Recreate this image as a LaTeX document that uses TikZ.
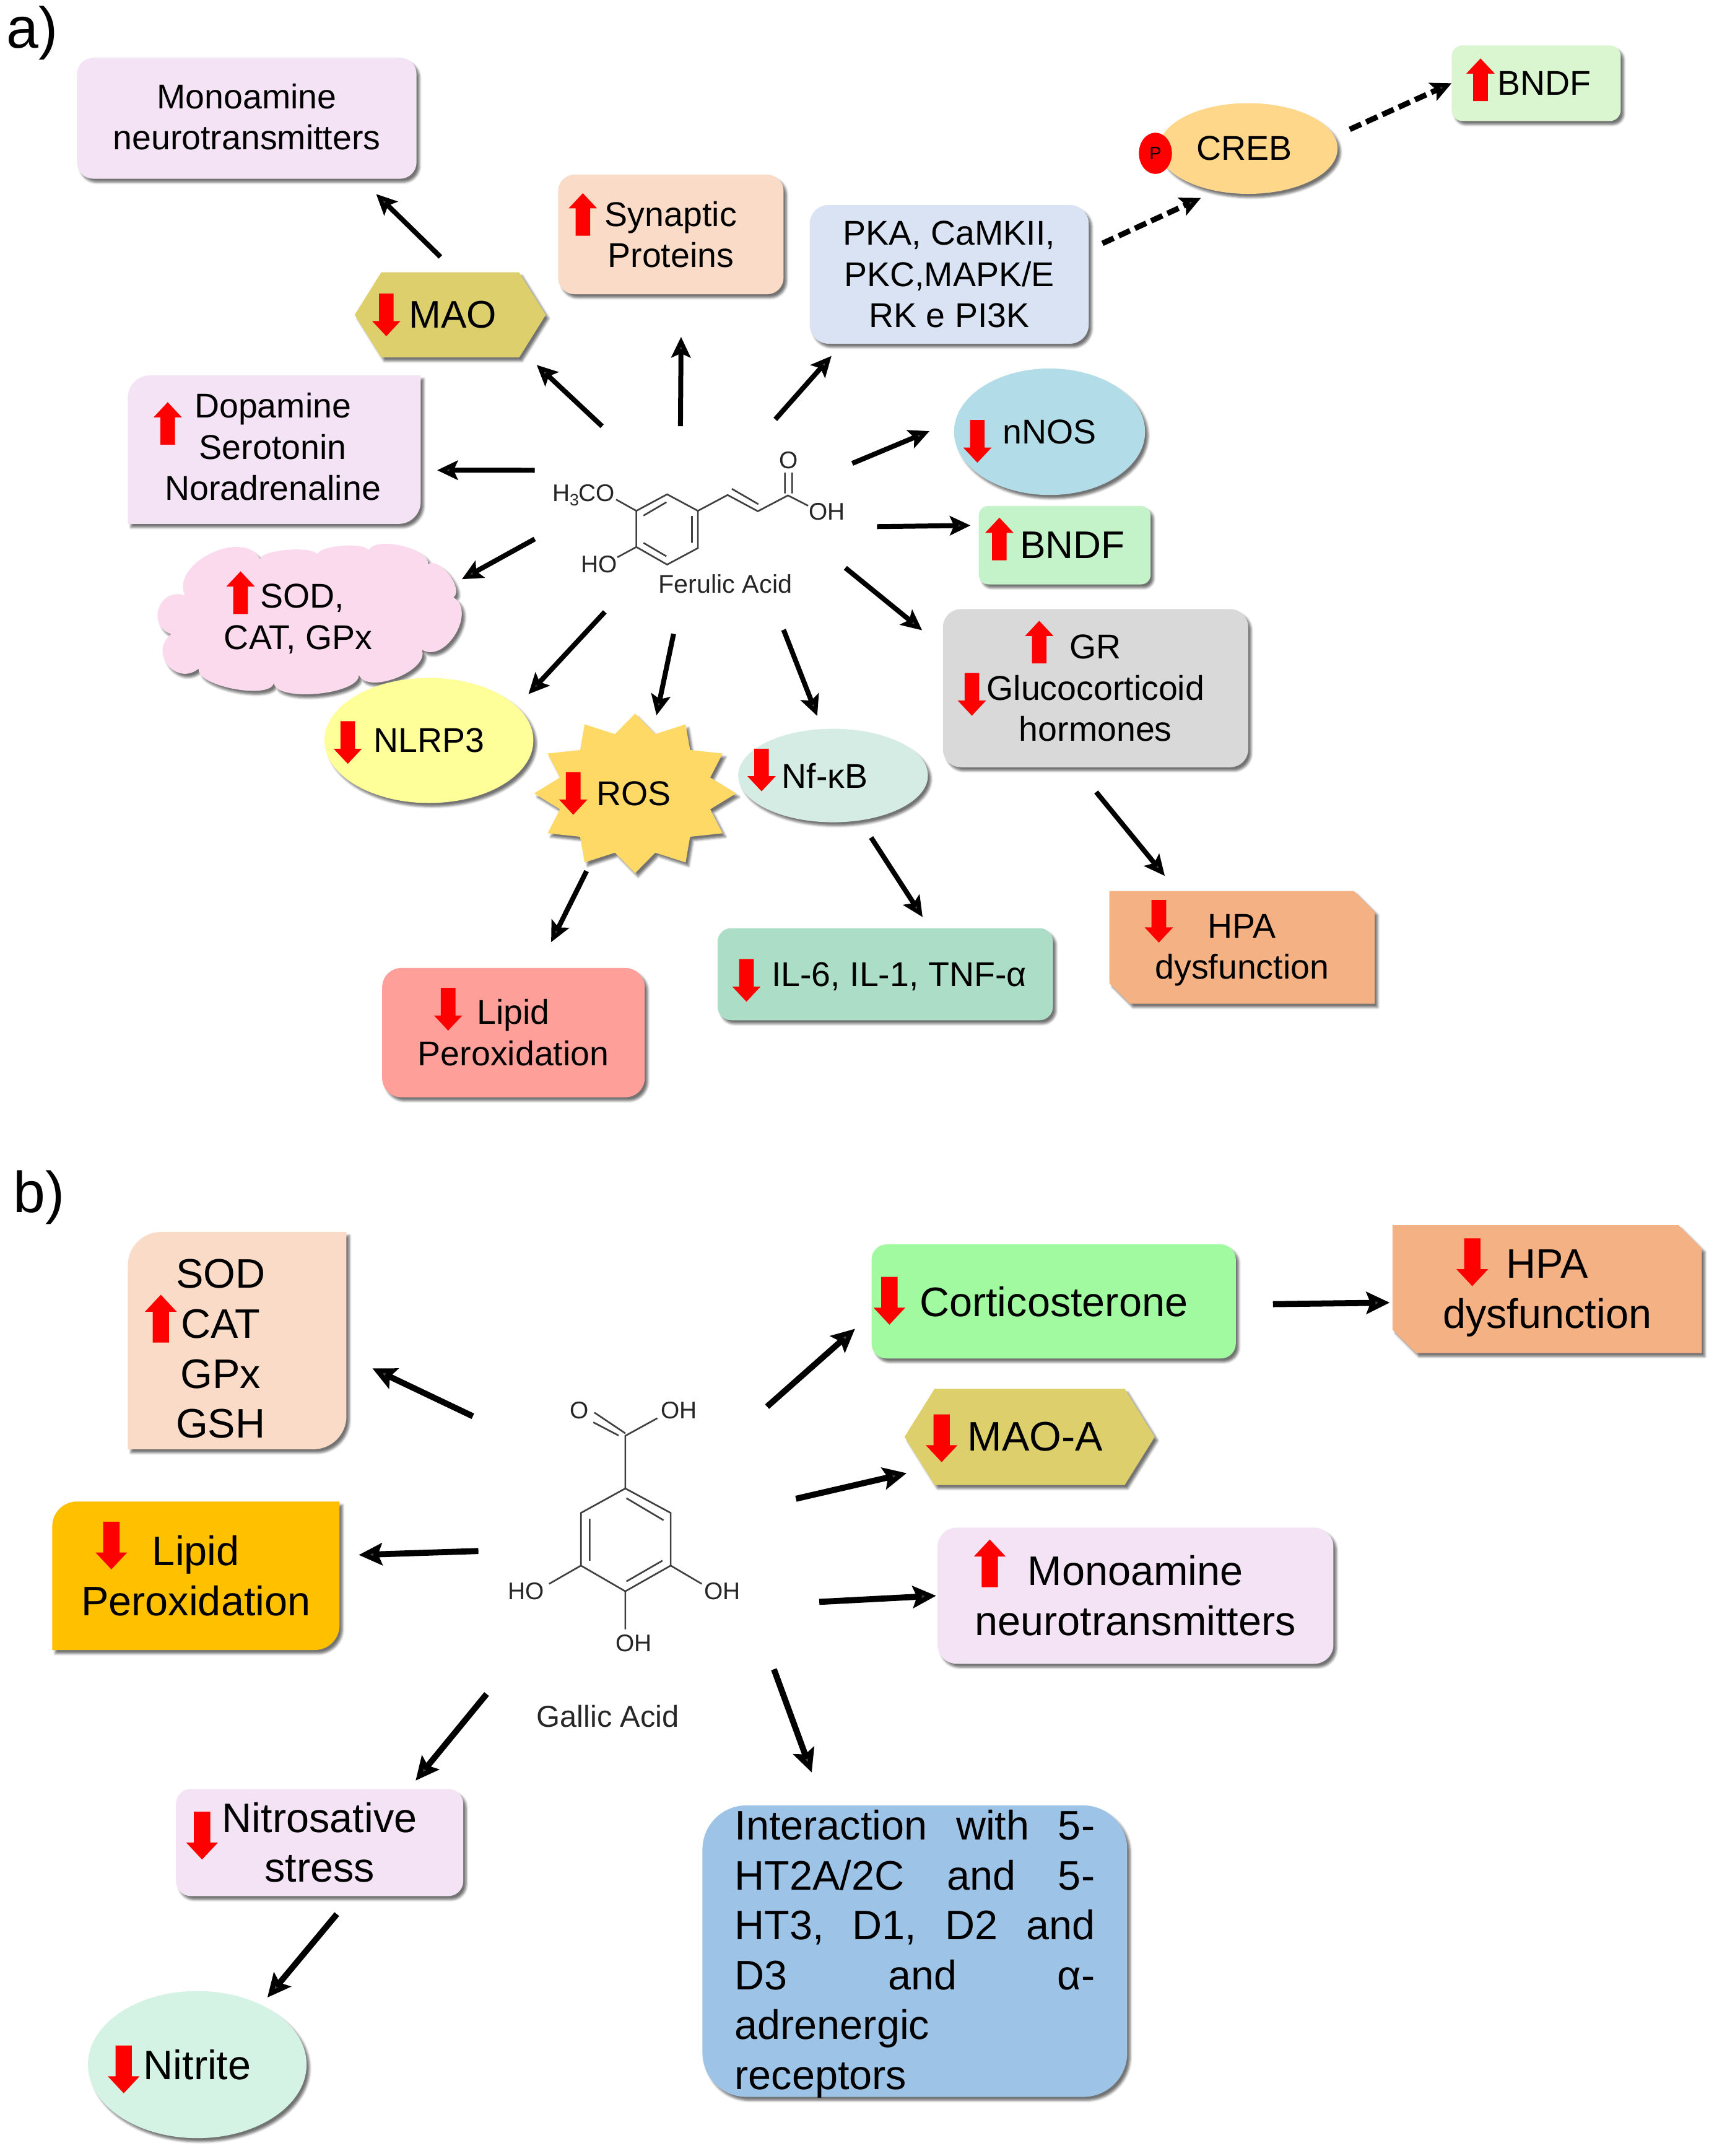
\documentclass[tikz,border=0pt]{standalone}
\usepackage{fontspec}
\setmainfont{Liberation Sans}
\usetikzlibrary{arrows.meta,shapes.geometric,shapes.symbols,shadows.blur}

\definecolor{cPurple}{HTML}{F3E3F5}
\definecolor{cPeach}{HTML}{FADBC8}
\definecolor{cBlue}{HTML}{DAE3F3}
\definecolor{cCreb}{HTML}{FFD78A}
\definecolor{cMint}{HTML}{D9F6D1}
\definecolor{cMao}{HTML}{DCCF6C}
\definecolor{cCloud}{HTML}{FBDAEE}
\definecolor{cYellow}{HTML}{FFFF99}
\definecolor{cStar}{HTML}{FFD966}
\definecolor{cNf}{HTML}{D4ECE4}
\definecolor{cNos}{HTML}{B1DCE8}
\definecolor{cGreen}{HTML}{C4F2C9}
\definecolor{cGrey}{HTML}{D9D9D9}
\definecolor{cHpa}{HTML}{F4B183}
\definecolor{cIl}{HTML}{ABDDC7}
\definecolor{cLipid}{HTML}{FF9F99}
\definecolor{cCort}{HTML}{A1F9A0}
\definecolor{cGold}{HTML}{FFC000}
\definecolor{cNit}{HTML}{D4F3E4}
\definecolor{cInter}{HTML}{9DC3E6}

\newcommand{\fA}{\fontsize{25}{30}\selectfont}
\newcommand{\fM}{\fontsize{28}{33}\selectfont}
\newcommand{\fB}{\fontsize{30}{36.3}\selectfont}
\newcommand{\fChem}{\fontsize{17.5}{20}\selectfont}

\tikzset{
  sh/.style={blur shadow={shadow xshift=2.2pt,shadow yshift=-2.6pt,shadow blur radius=1.6pt,shadow blur steps=6,shadow opacity=55}},
  txt/.style={inner sep=0pt,outer sep=0pt,align=center,text=black},
  bx/.style n args={2}{txt,rectangle,minimum width=#1pt,minimum height=#2pt},
  el/.style n args={2}{txt,ellipse,minimum width=#1pt,minimum height=#2pt},
  hex/.style n args={2}{txt,signal,signal to=east and west,signal from=nowhere,signal pointer angle=116,minimum width=#1pt,minimum height=#2pt},
  arr/.style={line width=3.6pt,-{Stealth[length=15pt,width=14pt,inset=3pt]}},
  arrb/.style={line width=4.4pt,-{Stealth[length=17pt,width=16pt,inset=3pt]}},
  dsh/.style={line width=4pt,dash pattern=on 9pt off 4pt,-{Stealth[length=15pt,width=14pt,inset=3pt]}},
  bond/.style={line width=1.2pt,draw=black!75},
  chem/.style={txt,font=\fChem,text=black!85},
  pics/upa/.style={code={\fill[red] (0,-15.5) -- (10.3,-4.5) -- (5.3,-4.5) -- (5.3,15.5) -- (-5.3,15.5) -- (-5.3,-4.5) -- (-10.3,-4.5) -- cycle;}}
}

% box with rounded top left and bottom right corners
\newcommand{\diagbox}[9]{%
  \path[fill=#7,sh] ({#2+#6},#3) -- (#4,#3) -- (#4,{#5-#6})
    .. controls (#4,{#5-.45*#6}) and ({#4-.45*#6},#5) .. ({#4-#6},#5)
    -- (#2,#5) -- (#2,{#3+#6})
    .. controls (#2,{#3+.45*#6}) and ({#2+.45*#6},#3) .. ({#2+#6},#3) -- cycle;
  \node[bx={\fpeval{#4-#2}}{\fpeval{#5-#3}}] (#1) at ({(#2+#4)/2},{(#3+#5)/2}) {};
  \node[txt,#9] (#1t) at (#1) {#8};}
% box with snipped top right and bottom left corners
\newcommand{\snipbox}[9]{%
  \path[fill=#7,sh] (#2,#3) -- ({#4-#6},#3) -- (#4,{#3+#6}) -- (#4,#5)
    -- ({#2+#6},#5) -- (#2,{#5-#6}) -- cycle;
  \node[bx={\fpeval{#4-#2}}{\fpeval{#5-#3}}] (#1) at ({(#2+#4)/2},{(#3+#5)/2}) {};
  \node[txt,#9] (#1t) at (#1) {#8};}

\begin{document}
\begin{tikzpicture}[x=1pt,y=-1pt,font=\fA]
\useasboundingbox (0,0) rectangle (1243,1568);

%%% panel a
\node[txt,font=\fontsize{42}{46}\selectfont] (la) at (23.5,24) {a)};

\node[bx={247}{88},rounded corners=12pt,fill=cPurple,sh] (mono) at (179.5,86) {};
\node[txt] (monot) at (179.5,85) {Monoamine\\neurotransmitters};
\node[hex={139}{62},fill=cMao,sh,font=\fM] (mao) at (327.5,229) {\hspace*{4pt}MAO};
\node[bx={164}{87},rounded corners=12pt,fill=cPeach,sh] (syn) at (488,170.5) {Synaptic\\Proteins};
\node[bx={203}{101},rounded corners=14pt,fill=cBlue,sh] (pka) at (690.5,199.5) {PKA, CaMKII,\\PKC,MAPK/E\\RK e PI3K};
\node[el={130}{66},fill=cCreb,sh] (creb) at (908,108) {\hspace*{-6pt}CREB};
\node[el={24}{30},fill=red,font=\fontsize{13}{13}\selectfont] (phos) at (840.5,111.5) {P};
\node[bx={123}{55},rounded corners=8pt,fill=cMint,sh] (bndfa) at (1117.5,60.5) {\hspace*{12pt}BNDF};
\diagbox{dop}{93}{273}{306}{381}{16}{cPurple}{Dopamine\\Serotonin\\Noradrenaline}{yshift=2pt,xshift=-1pt}
\node[el={139}{92},fill=cNos,sh] (nnos) at (763.5,314) {nNOS};
\node[bx={125}{57},rounded corners=7pt,fill=cGreen,sh,font=\fM] (bndfb) at (774.5,396.5) {\hspace*{11pt}BNDF};

% cloud outline, with a plain rectangle node to anchor its connector
\path[fill=cCloud,sh] (124.5,461.2)
  to[bend left=90,looseness=1.7] (134.6,433.1)
  to[bend left=90,looseness=1.1] (189.2,406.9)
  to[bend left=90,looseness=.45] (230.8,403.8)
  to[bend left=90,looseness=.5] (268.1,400.9)
  to[bend left=90,looseness=.7] (311.2,410.4)
  to[bend left=90,looseness=.85] (329.9,434.5)
  to[bend left=90,looseness=1.15] (306.9,472.5)
  to[bend left=90,looseness=.85] (261,490.6)
  to[bend left=90,looseness=.6] (199.2,496.6)
  to[bend left=90,looseness=.6] (144.6,486.2)
  to[bend left=90,looseness=1.7] (124.5,461.2) -- cycle;
\node[bx={222}{108}] (sod) at (225,451) {};
\node[txt] (sodt) at (217,450) {\hspace*{6pt}SOD,\\CAT, GPx};

\node[bx={222}{115},rounded corners=13pt,fill=cGrey,sh] (gr) at (797,500.5) {GR\\Glucocorticoid\\hormones};
\node[el={152}{91},fill=cYellow,sh] (nlrp) at (312,538.5) {NLRP3};
\node[star,star points=12,star point ratio=1.3,minimum size=116pt,inner sep=0pt,outer sep=0pt,fill=cStar,sh,xscale=1.267] (ros) at (462,577) {};
\node[txt] (rost) at (461,577) {ROS};
\node[el={138}{68},fill=cNf,sh] (nfkb) at (606,564) {\hspace*{-12pt}Nf-κB};
\snipbox{hpaa}{807}{648}{1000}{730}{15}{cHpa}{HPA\\dysfunction}{yshift=-2pt}
\node[bx={244}{67},rounded corners=10pt,fill=cIl,sh] (il) at (644,708.5) {};
\node[txt] (ilt) at (654,710) {IL-6, IL-1, TNF-α};
\node[bx={191}{94},rounded corners=14pt,fill=cLipid,sh] (lipa) at (373.5,751) {Lipid\\Peroxidation};

% red arrows of panel a
\pic at (424,156) {upa};
\pic[rotate=180] at (281,229) {upa};
\pic at (122,308) {upa};
\pic at (175,431) {upa};
\pic[rotate=180] at (253,540) {upa};
\pic[rotate=180] at (417,577) {upa};
\pic[rotate=180] at (554,560) {upa};
\pic[rotate=180] at (711,321) {upa};
\pic at (727,392) {upa};
\pic at (1077,58) {upa};
\pic at (756,467) {upa};
\pic[rotate=180] at (707,505) {upa};
\pic[rotate=180] at (843,670) {upa};
\pic[rotate=180] at (543,713) {upa};
\pic[rotate=180] at (326,734) {upa};

% ferulic acid
\coordinate (a1) at (462.9,371.5);
\coordinate (a2) at (485.3,359.5);
\coordinate (a3) at (507.7,371.5);
\coordinate (a4) at (507.7,398.6);
\coordinate (a5) at (485.3,410.6);
\coordinate (a6) at (462.9,397.8);
\draw[bond] (a1) -- (a2) -- (a3) -- (a4) -- (a5) -- (a6) -- cycle;
\draw[bond] (468.1,375) -- (484.8,365.2) (503.4,375.3) -- (503.4,394.8) (468.1,394.8) -- (484.8,404.6);
\draw[bond] (a3) -- (529.3,360) -- (551.3,371.8) -- (573.2,360.3) -- (587.9,367.8);
\draw[bond] (532.4,355.5) -- (551.7,366.7) (571,343.7) -- (571,358.8) (576.2,343.7) -- (576.2,358.8);
\draw[bond] (a1) -- (448.2,363.3) (a6) -- (449.1,405.3);
\node[chem] (fo) at (573.6,334.7) {O};
\node[chem] (foh) at (601.7,372.3) {OH};
\node[chem] (fmeo) at (424.6,360.3) {H\raisebox{-3pt}{\fontsize{12}{12}\selectfont 3}CO};
\node[chem] (fho) at (436,410.6) {HO};
\node[chem,font=\fontsize{18.6}{20}\selectfont] (fname) at (527.7,424.8) {Ferulic Acid};

% free starts of the radial arrows
\coordinate (s1) at (438,310);
\coordinate (s2) at (495,310);
\coordinate (s3) at (564,305);
\coordinate (s4) at (620,337);
\coordinate (s5) at (638,383);
\coordinate (s6) at (615,413);
\coordinate (s7) at (570,458);
\coordinate (s8) at (490,461);
\coordinate (s9) at (440,445);
\coordinate (s10) at (389,392);
\coordinate (s11) at (389,342);

\draw[arr,shorten >=14pt] (s1) -- (mao.-27.2);
\draw[arr,shorten >=31pt] (s2) -- (syn.-80.9);
\draw[arr,shorten >=11.8pt] (s3) -- (pka.-147.7);
\draw[arr,shorten >=20.6pt] (s4) -- (nnos.173.5);
\draw[arr,shorten >=6pt] (s5) -- (bndfb.167.8);
\draw[arr,shorten >=19.6pt] (s6) -- (gr.165.9);
\draw[arr,shorten >=10.2pt] (s7) -- (nfkb.103.9);
\draw[arr,shorten >=12.3pt] (s8) -- (ros.77.8);
\draw[arr,shorten >=12.4pt] (s9) -- (nlrp.21.9);
\draw[arr] (s10) -- (sod.15.7);
\draw[arr,shorten >=12pt] (s11) -- (dop.-8);
\draw[arr,shorten <=16pt,shorten >=15.9pt] (mao.82.6) -- (mono.-28.5);
\draw[arr,shorten <=23.3pt,shorten >=14.2pt] (gr.-104.4) -- (hpaa.139.2);
\draw[arr,shorten <=9pt,shorten >=21pt] (ros.-117) -- (lipa.69.9);
\draw[arr,shorten <=14.9pt,shorten >=9.6pt] (nfkb.-59.8) -- (il.46.1);
\draw[dsh,shorten <=11pt,shorten >=12.3pt] (pka.10) -- (creb.-127.7);
\draw[dsh,shorten <=12.4pt] (creb.8) -- (bndfa.west);

%%% panel b
\node[txt,font=\fontsize{42}{46}\selectfont] (lb) at (28.5,871) {b)};

\begin{scope}[font=\fB]
\diagbox{sodb}{93}{896}{252}{1054}{24}{cPeach}{SOD\\CAT\\GPx\\GSH}{xshift=-12pt,yshift=-6pt}
\node[bx={265}{83},rounded corners=11pt,fill=cCort,sh] (cort) at (766.5,946.5) {Corticosterone};
\snipbox{hpab}{1013}{891}{1238}{984}{17}{cHpa}{HPA\\dysfunction}{yshift=-3pt}
\node[hex={182}{70},fill=cMao,sh] (maoa) at (749,1045) {\hspace*{8pt}MAO-A};
\diagbox{lipb}{38}{1092}{247}{1200}{18}{cGold}{Lipid\\Peroxidation}{}
\node[bx={288}{99},rounded corners=14pt,fill=cPurple,sh] (monob) at (826,1160.5) {Monoamine\\neurotransmitters};
\node[bx={209}{78},rounded corners=11pt,fill=cPurple,sh] (nitro) at (232.5,1340) {Nitrosative\\stress};
\node[el={159}{107},fill=cNit,sh] (nitr) at (143.5,1501.5) {Nitrite};
\node[bx={309}{212},rounded corners=32pt,fill=cInter,sh] (inter) at (665.5,1419) {};
\node[txt,align=left] (intert) at (665.5,1421) {%
  \hbox to 262pt{Interaction\hfil with\hfil 5-}\\
  \hbox to 262pt{HT2A/2C\hfil and\hfil 5-}\\
  \hbox to 262pt{HT3,\hfil D1,\hfil D2\hfil and}\\
  \hbox to 262pt{D3\hfil and\hfil α-}\\
  \hbox to 262pt{adrenergic\hfil}\\
  \hbox to 262pt{receptors\hfil}};
\end{scope}

% red arrows of panel b
\pic[scale=1.12] at (117,959) {upa};
\pic[rotate=180,scale=1.12] at (647,946) {upa};
\pic[rotate=180,scale=1.12] at (1071,918) {upa};
\pic[rotate=180,scale=1.12] at (685,1046) {upa};
\pic[rotate=180,scale=1.12] at (81,1124) {upa};
\pic[scale=1.12] at (720,1137) {upa};
\pic[rotate=180,scale=1.12] at (147,1335) {upa};
\pic[rotate=180,scale=1.12] at (90,1505) {upa};

% gallic acid
\coordinate (g1) at (454.9,1082.5);
\coordinate (g2) at (487.9,1100.3);
\coordinate (g3) at (487.9,1138.6);
\coordinate (g4) at (454.9,1157.3);
\coordinate (g5) at (422.6,1138.6);
\coordinate (g6) at (422.6,1100.3);
\draw[bond] (g1) -- (g2) -- (g3) -- (g4) -- (g5) -- (g6) -- cycle;
\draw[bond] (455.7,1089.6) -- (482.7,1105.6) (429,1104.7) -- (429,1135) (455.7,1150.1) -- (481.9,1135);
\draw[bond] (g1) -- (454.9,1044.2) -- (478.2,1031.4);
\draw[bond] (432.4,1027.3) -- (454.9,1042.4) (431.6,1034.4) -- (450,1044);
\draw[bond] (g5) -- (399.4,1151.9) (g3) -- (510.5,1151.9) (g4) -- (454.9,1184.9);
\node[chem] (go) at (421.6,1025.5) {O};
\node[chem] (goh) at (494,1025.5) {OH};
\node[chem] (gho) at (382.5,1157.3) {HO};
\node[chem] (gohr) at (525.5,1157.3) {OH};
\node[chem] (gohb) at (461,1195.2) {OH};
\node[chem,font=\fontsize{22}{24}\selectfont] (gname) at (442.2,1248) {Gallic Acid};

\coordinate (t1) at (344,1030);
\coordinate (t2) at (348,1128);
\coordinate (t3) at (354,1232);
\coordinate (t4) at (563,1214);
\coordinate (t5) at (596,1165);
\coordinate (t6) at (579,1090);
\coordinate (t7) at (558,1023);

\draw[arrb,shorten >=21pt] (t1) -- (sodb.-8.7);
\draw[arrb,shorten >=14pt] (t2) -- (lipb.8.5);
\draw[arrb,shorten >=7.8pt] (t3) -- (nitro.31.2);
\draw[arrb,shorten >=25.5pt] (t4) -- (inter.122.3);
\draw[arrb,shorten >=1pt] (t5) -- (monob.180.6);
\draw[arrb,shorten >=13.4pt] (t6) -- (maoa.-163.8);
\draw[arrb,shorten >=16pt] (t7) -- (cort.-176.2);
\draw[arrb,shorten <=17pt,shorten >=7pt] (nitro.-59) -- (nitr.43.1);
\draw[arrb,shorten <=27pt,shorten >=2pt] (cort.-1.9) -- (hpab.-175.2);
\end{tikzpicture}
\end{document}
